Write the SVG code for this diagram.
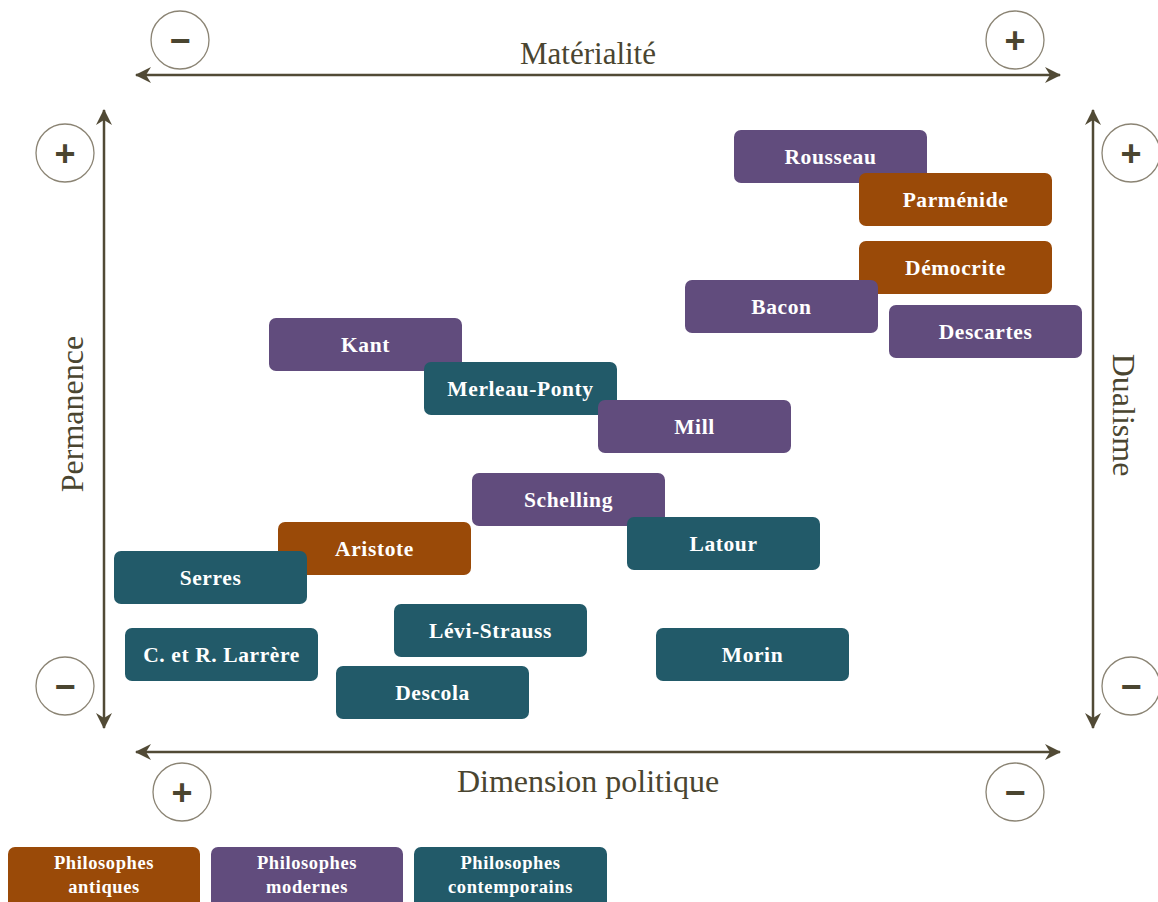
<svg xmlns="http://www.w3.org/2000/svg" width="1158" height="902" viewBox="0 0 1158 902">
<style>
.ax{stroke:#514a35;stroke-width:2.5;fill:none}
.circ{fill:none;stroke:#8b8474;stroke-width:1.3}
.sym{font-family:"Liberation Sans",Arial,sans-serif;font-size:36px;font-weight:bold;fill:#4a4530;text-anchor:middle}
.lbl{font-family:"Liberation Serif","Times New Roman",serif;fill:#4a4530;text-anchor:middle}
.box{stroke:none}
.ant{fill:#9a4a08}
.mod{fill:#614c7d}
.con{fill:#225a69}
.t{font-family:"Liberation Serif","Times New Roman",serif;font-weight:bold;font-size:21.5px;letter-spacing:0.6px;fill:#ffffff;text-anchor:middle}
.lt{font-family:"Liberation Serif","Times New Roman",serif;font-weight:bold;font-size:18.5px;letter-spacing:0.6px;fill:#ffffff;text-anchor:middle}
</style>
<defs>
<marker id="ah" viewBox="0 0 16 16" refX="15" refY="8" markerWidth="16" markerHeight="16" markerUnits="userSpaceOnUse" orient="auto-start-reverse">
<path d="M0,0 L16,8 L0,16 L5,8 z" fill="#514a35"/>
</marker>
</defs>
<rect width="1158" height="902" fill="#ffffff"/>

<g id="connectors">
<line class="ax" x1="136" y1="75" x2="1060" y2="75" marker-start="url(#ah)" marker-end="url(#ah)"/>
<line class="ax" x1="136" y1="752" x2="1060" y2="752" marker-start="url(#ah)" marker-end="url(#ah)"/>
<line class="ax" x1="104" y1="110" x2="104" y2="728" marker-start="url(#ah)" marker-end="url(#ah)"/>
<line class="ax" x1="1093" y1="110" x2="1093" y2="728" marker-start="url(#ah)" marker-end="url(#ah)"/>
</g>

<g id="axis-labels">
<text class="lbl" x="588" y="64" font-size="31">Matérialité</text>
<text class="lbl" x="588" y="792" font-size="32">Dimension politique</text>
<text class="lbl" font-size="32" transform="translate(83,414) rotate(-90)">Permanence</text>
<text class="lbl" font-size="32" transform="translate(1113,415) rotate(90)">Dualisme</text>
</g>

<g id="signs">
<g id="sign-top-minus"><circle class="circ" cx="180" cy="40" r="29"/><text class="sym" x="180" y="53">−</text></g>
<g id="sign-top-plus"><circle class="circ" cx="1015" cy="40" r="29"/><text class="sym" x="1015" y="53">+</text></g>
<g id="sign-left-plus"><circle class="circ" cx="65" cy="153" r="29"/><text class="sym" x="65" y="166">+</text></g>
<g id="sign-left-minus"><circle class="circ" cx="65" cy="686" r="29"/><text class="sym" x="65" y="699">−</text></g>
<g id="sign-right-plus"><circle class="circ" cx="1131" cy="153" r="29"/><text class="sym" x="1131" y="166">+</text></g>
<g id="sign-right-minus"><circle class="circ" cx="1131" cy="686" r="29"/><text class="sym" x="1131" y="699">−</text></g>
<g id="sign-bottom-plus"><circle class="circ" cx="182" cy="792" r="29"/><text class="sym" x="182" y="805">+</text></g>
<g id="sign-bottom-minus"><circle class="circ" cx="1015" cy="792" r="29"/><text class="sym" x="1015" y="805">−</text></g>
</g>

<g id="node-rousseau"><rect class="box mod" x="734" y="130" width="193" height="53" rx="7"/><text class="t" x="830.5" y="164">Rousseau</text></g>
<g id="node-parmenide"><rect class="box ant" x="859" y="173" width="193" height="53" rx="7"/><text class="t" x="955.5" y="207">Parménide</text></g>
<g id="node-democrite"><rect class="box ant" x="859" y="241" width="193" height="53" rx="7"/><text class="t" x="955.5" y="275">Démocrite</text></g>
<g id="node-bacon"><rect class="box mod" x="685" y="280" width="193" height="53" rx="7"/><text class="t" x="781.5" y="314">Bacon</text></g>
<g id="node-descartes"><rect class="box mod" x="889" y="305" width="193" height="53" rx="7"/><text class="t" x="985.5" y="339">Descartes</text></g>
<g id="node-kant"><rect class="box mod" x="269" y="318" width="193" height="53" rx="7"/><text class="t" x="365.5" y="352">Kant</text></g>
<g id="node-merleau-ponty"><rect class="box con" x="424" y="362" width="193" height="53" rx="7"/><text class="t" x="520.5" y="396">Merleau-Ponty</text></g>
<g id="node-mill"><rect class="box mod" x="598" y="400" width="193" height="53" rx="7"/><text class="t" x="694.5" y="434">Mill</text></g>
<g id="node-schelling"><rect class="box mod" x="472" y="473" width="193" height="53" rx="7"/><text class="t" x="568.5" y="507">Schelling</text></g>
<g id="node-latour"><rect class="box con" x="627" y="517" width="193" height="53" rx="7"/><text class="t" x="723.5" y="551">Latour</text></g>
<g id="node-aristote"><rect class="box ant" x="278" y="522" width="193" height="53" rx="7"/><text class="t" x="374.5" y="556">Aristote</text></g>
<g id="node-serres"><rect class="box con" x="114" y="551" width="193" height="53" rx="7"/><text class="t" x="210.5" y="585">Serres</text></g>
<g id="node-levi-strauss"><rect class="box con" x="394" y="604" width="193" height="53" rx="7"/><text class="t" x="490.5" y="638">Lévi-Strauss</text></g>
<g id="node-larrere"><rect class="box con" x="125" y="628" width="193" height="53" rx="7"/><text class="t" x="221.5" y="662">C. et R. Larrère</text></g>
<g id="node-morin"><rect class="box con" x="656" y="628" width="193" height="53" rx="7"/><text class="t" x="752.5" y="662">Morin</text></g>
<g id="node-descola"><rect class="box con" x="336" y="666" width="193" height="53" rx="7"/><text class="t" x="432.5" y="700">Descola</text></g>

<g id="legend">
<g id="legend-antiques"><rect class="box ant" x="8" y="847" width="192" height="62" rx="7"/><text class="lt" x="104" y="869">Philosophes</text><text class="lt" x="104" y="893">antiques</text></g>
<g id="legend-modernes"><rect class="box mod" x="211" y="847" width="192" height="62" rx="7"/><text class="lt" x="307" y="869">Philosophes</text><text class="lt" x="307" y="893">modernes</text></g>
<g id="legend-contemporains"><rect class="box con" x="414" y="847" width="193" height="62" rx="7"/><text class="lt" x="510.5" y="869">Philosophes</text><text class="lt" x="510.5" y="893">contemporains</text></g>
</g>
</svg>
